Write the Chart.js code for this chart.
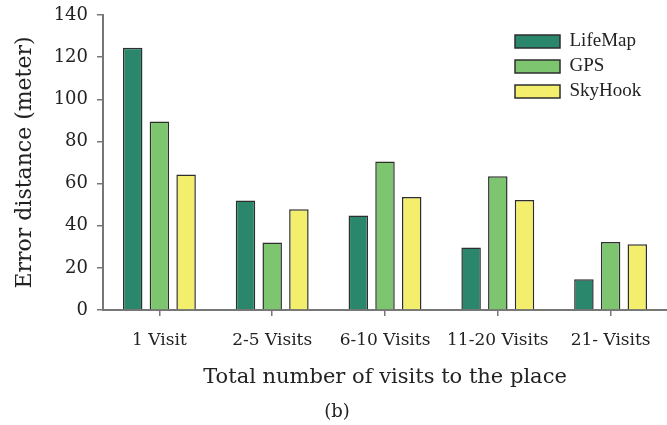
<!DOCTYPE html>
<html>
<head>
<meta charset="utf-8">
<script src="https://cdn.jsdelivr.net/npm/chart.js@4.4.0/dist/chart.umd.min.js"></script>
<style>
  html, body { margin: 0; padding: 0; background: #fff; }
  #wrap { width: 667px; height: 425px; }
</style>
</head>
<body>
<div id="wrap"><canvas id="chart" width="667" height="425"></canvas></div>
<script>
// data
const categories = ['1 Visit', '2-5 Visits', '6-10 Visits', '11-20 Visits', '21- Visits'];
const lifeMap = [124.5, 52, 44.8, 29.7, 14.6];
const gps = [89.5, 32, 70.5, 63.5, 32.3];
const skyHook = [64.3, 47.8, 53.6, 52.2, 31.2];
const yTicks = [0, 20, 40, 60, 80, 100, 120, 140];

const axisColor = '#777';
const textColor = '#222';

// moves the legend into the top right corner of the plot
const legendSpot = {
    id: 'legendSpot',
    afterLayout(chart) {
        const lg = chart.legend;
        lg.left = 509;
        lg.top = 26;
        lg.bottom = 26 + 200;
    }
};

// the "(b)" caption under the axis title
const caption = {
    id: 'caption',
    afterDraw(chart) {
        const ctx = chart.ctx;
        ctx.save();
        ctx.font = '18px "DejaVu Serif"';
        ctx.fillStyle = textColor;
        ctx.textAlign = 'center';
        ctx.textBaseline = 'middle';
        ctx.fillText('(b)', 337, 412);
        ctx.restore();
    }
};

const barStyle = { borderColor: '#2e2e2e', borderWidth: 1.5 };

new Chart(document.getElementById('chart'), {
    type: 'bar',
    data: {
        labels: categories,
        datasets: [
            { label: 'LifeMap', data: lifeMap, backgroundColor: '#2a876b', ...barStyle },
            { label: 'GPS', data: gps, backgroundColor: '#7dc56f', ...barStyle },
            { label: 'SkyHook', data: skyHook, backgroundColor: '#f3ee6b', ...barStyle }
        ]
    },
    options: {
        responsive: false,
        animation: false,
        layout: { padding: { top: 15, right: 0, bottom: 25, left: 0 } },
        datasets: { bar: { categoryPercentage: 0.71, barPercentage: 0.73 } },
        plugins: {
            legend: {
                position: 'chartArea',
                align: 'start',
                labels: {
                    boxWidth: 45,
                    boxHeight: 13,
                    padding: 6,
                    color: textColor,
                    font: { family: '"Liberation Serif"', size: 19 }
                }
            },
            tooltip: { enabled: false }
        },
        scales: {
            x: {
                afterFit(scale) { scale.height = 90; },
                grid: { display: true, drawOnChartArea: false, offset: false, tickLength: 6, color: axisColor, lineWidth: 1.5 },
                border: { display: true, color: axisColor, width: 2 },
                ticks: { color: textColor, padding: 14, font: { family: '"DejaVu Serif"', size: 17 } },
                title: {
                    display: true,
                    text: 'Total number of visits to the place',
                    color: textColor,
                    font: { family: '"DejaVu Serif"', size: 21 },
                    padding: { top: 0, bottom: 10 }
                }
            },
            y: {
                min: 0,
                max: 140,
                afterFit(scale) {
                    scale.width = 103;
                    scale.paddingTop = 0;
                    scale.paddingBottom = 0;
                },
                afterBuildTicks(scale) { scale.ticks = yTicks.map(v => ({ value: v })); },
                grid: { display: true, drawOnChartArea: false, tickLength: 6, color: axisColor, lineWidth: 1.5 },
                border: { display: true, color: axisColor, width: 2 },
                ticks: { color: textColor, padding: 9, font: { family: '"DejaVu Serif"', size: 18 } },
                title: {
                    display: true,
                    text: 'Error distance (meter)',
                    color: textColor,
                    font: { family: '"DejaVu Serif"', size: 22 },
                    padding: { top: 12, bottom: 0 }
                }
            }
        }
    },
    plugins: [legendSpot, caption]
});
</script>
</body>
</html>
